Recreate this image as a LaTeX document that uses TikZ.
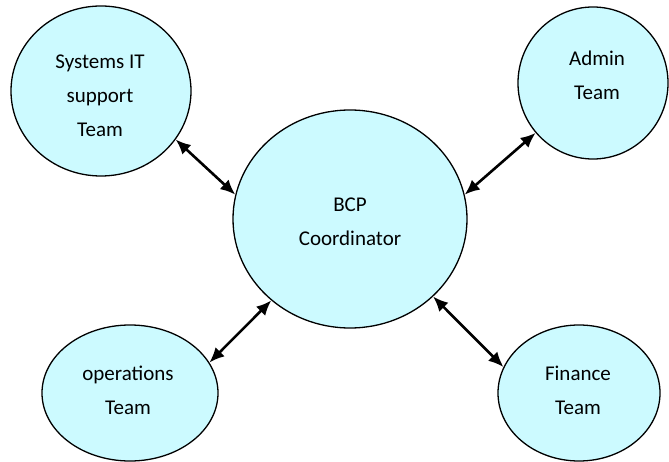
\documentclass[tikz,border=0pt]{standalone}
\usepackage{fontspec}
\setmainfont{Carlito}
\usetikzlibrary{shapes.geometric,arrows.meta}
\definecolor{bubble}{RGB}{204,250,255}
\begin{document}
\begin{tikzpicture}[x=1pt,y=1pt,
  bubblebox/.style={ellipse,draw=black,line width=1.3pt,fill=bubble,inner sep=0pt},
  caption/.style={align=center,inner sep=0pt,font=\fontsize{21}{34}\selectfont},
  link/.style={line width=2.6pt,{Latex[length=15pt,width=13pt]}-{Latex[length=15pt,width=13pt]}}]
\useasboundingbox (0,0) rectangle (669,461);

% bubbles
\node[bubblebox,minimum width=234pt,minimum height=218pt] (bcp) at (350,242) {};
\node[bubblebox,minimum width=180pt,minimum height=170pt] (sys) at (101,370) {};
\node[bubblebox,minimum width=150pt,minimum height=152pt] (adm) at (593,378) {};
\node[bubblebox,minimum width=176pt,minimum height=136pt] (ops) at (130,68) {};
\node[bubblebox,minimum width=162pt,minimum height=136pt] (fin) at (579,68) {};

% labels
\node[caption] (bcp-t) at (350,239) {BCP\\Coordinator};
\node[caption] (sys-t) at (100,365) {Systems IT\\support\\Team};
\node[caption] (adm-t) at (597,386) {Admin\\Team};
\node[caption] (ops-t) at (128,71) {operations\\Team};
\node[caption] (fin-t) at (578,71) {Finance\\Team};

% two-way links
\draw[link] (sys.-33.5) -- (bcp.168);
\draw[link] (adm.221) -- (bcp.12.5);
\draw[link] (bcp.226.8) -- (ops.21);
\draw[link] (bcp.-43.2) -- (fin.161.8);
\end{tikzpicture}
\end{document}
